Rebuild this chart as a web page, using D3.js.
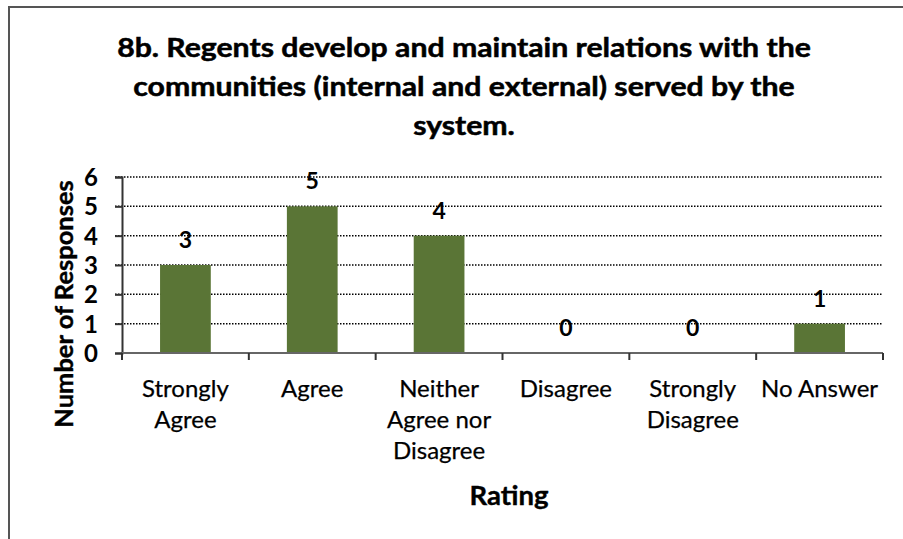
<!DOCTYPE html>
<html><head><meta charset="utf-8">
<script src="https://cdn.jsdelivr.net/npm/d3@7"></script>
<style>body{margin:0;background:#fff}svg{display:block}</style>
</head><body>
<svg id="c" width="903" height="539"></svg>
<script>
const titleLines = ["8b. Regents develop and maintain relations with the","communities (internal and external) served by the","system."];
const categories = [["Strongly","Agree"],["Agree"],["Neither","Agree nor","Disagree"],["Disagree"],["Strongly","Disagree"],["No Answer"]];
const values = [3,5,4,0,0,1];
const yTicks = [0,1,2,3,4,5,6];
const yTitle = "Number of Responses";
const xTitle = "Rating";

const FONT = "Lato, 'Open Sans', sans-serif";
const svg = d3.select("#c");
svg.append("rect").attr("width",903).attr("height",539).attr("fill","#fff");
// frame
svg.append("path").attr("d","M9,539V7H903").attr("fill","none").attr("stroke","#555").attr("stroke-width",2);

const L=122,R=883,T=177,B=353;
const keys = categories.map((c,i)=>i);
const x = d3.scaleBand().domain(keys).range([L,R]).paddingInner(0.6).paddingOuter(0.3);
const y = d3.scaleLinear().domain([0,6]).range([B,T]);

// title (stretched horizontally to match the reference's width)
const tt = svg.append("g");
const tnodes = titleLines.map((t,i)=>tt.append("text").attr("x",0).attr("y",57+i*39).attr("text-anchor","middle")
    .attr("font-family",FONT).attr("font-weight","bold").attr("font-size",26)
    .attr("stroke","#000").attr("stroke-width",0.5).attr("fill","#000").text(t));
const w0 = tnodes[0].node().getComputedTextLength();
const sx = 694 / w0;
tnodes.forEach(n=>n.attr("transform",`translate(464,0) scale(${sx},1)`));

// grid
svg.append("g").selectAll("line").data(yTicks.filter(d=>d>0)).join("line")
  .attr("x1",L-7).attr("x2",R).attr("y1",d=>y(d)).attr("y2",d=>y(d))
  .attr("stroke","#000").attr("stroke-width",1.5).attr("stroke-dasharray","1.5,1.5");

// bars
svg.append("g").selectAll("rect").data(values).join("rect")
  .attr("x",(d,i)=>x(i)).attr("width",x.bandwidth())
  .attr("y",d=>y(d)).attr("height",d=>B-y(d)).attr("fill","#5a7536");

// y axis
const ya = svg.append("g").attr("transform",`translate(${L},0)`)
  .call(d3.axisLeft(y).tickValues(yTicks).tickSize(7).tickPadding(17).tickFormat(d3.format("d")));
ya.select(".domain").attr("stroke","#333").attr("stroke-width",2);
ya.selectAll(".tick line").attr("stroke","#333").attr("stroke-width",2);
ya.selectAll("text").attr("font-family",FONT).attr("font-weight","bold").attr("font-size",24).attr("fill","#000").attr("dy","0.36em");

// x axis
const xa = svg.append("g").attr("transform",`translate(0,${B})`);
xa.append("line").attr("x1",L).attr("x2",R).attr("y1",0).attr("y2",0).attr("stroke","#666").attr("stroke-width",2);
const bounds = keys.map(i=>x(i)-x.step()*x.paddingInner()/2).concat([R]);
xa.selectAll("line.t").data(bounds).join("line").attr("class","t")
  .attr("x1",d=>d).attr("x2",d=>d).attr("y1",0).attr("y2",7).attr("stroke","#333").attr("stroke-width",2);
categories.forEach((lines,i)=>{
  const tx = xa.append("text").attr("text-anchor","middle").attr("font-family",FONT).attr("font-size",24)
    .attr("stroke","#000").attr("stroke-width",0.25).attr("fill","#000");
  lines.forEach((ln,j)=>tx.append("tspan").attr("x",x(i)+x.bandwidth()/2).attr("y",44+j*31).text(ln));
});

// data labels
svg.append("g").selectAll("text").data(values).join("text")
  .attr("x",(d,i)=>x(i)+x.bandwidth()/2).attr("y",d=>y(d)-17)
  .attr("text-anchor","middle").attr("font-family",FONT).attr("font-weight","bold").attr("font-size",23).attr("fill","#000")
  .text(d=>d);

// axis titles
svg.append("text").attr("transform",`translate(73,304) rotate(-90)`).attr("text-anchor","middle")
  .attr("font-family",FONT).attr("font-weight","bold").attr("font-size",25.5)
  .attr("stroke","#000").attr("stroke-width",0.4).attr("fill","#000").text(yTitle);
svg.append("text").attr("x",509).attr("y",505).attr("text-anchor","middle")
  .attr("font-family",FONT).attr("font-weight","bold").attr("font-size",27.5)
  .attr("stroke","#000").attr("stroke-width",0.4).attr("fill","#000").text(xTitle);
</script>
</body></html>
